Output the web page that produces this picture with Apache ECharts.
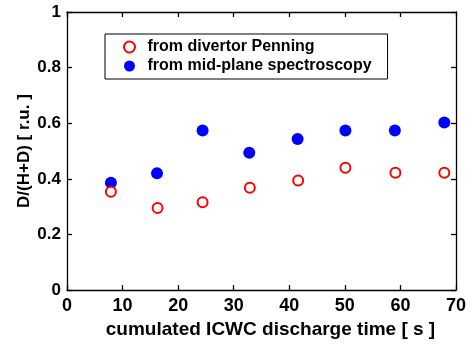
<!DOCTYPE html>
<html>
<head>
<meta charset="utf-8">
<script src="https://cdn.jsdelivr.net/npm/echarts@6/dist/echarts.min.js"></script>
<style>
  html, body { margin: 0; padding: 0; background: #fff; }
  #chart { width: 475px; height: 344px; }
</style>
</head>
<body>
<div id="chart"></div>
<script>
// values
const timePenning = [7.9, 16.3, 24.4, 32.9, 41.6, 50.1, 59.1, 67.9];
const penning = [0.354, 0.295, 0.316, 0.368, 0.394, 0.44, 0.422, 0.422];
const timeSpectro = [7.9, 16.2, 24.4, 32.8, 41.5, 50.1, 59.0, 67.9];
const spectro = [0.386, 0.42, 0.574, 0.494, 0.543, 0.574, 0.574, 0.603];

const font = "Liberation Sans, Arial, sans-serif";

const chart = echarts.init(document.getElementById("chart"));

const pairs = (xs, ys) => xs.map((x, i) => [x, ys[i]]);

const baseAxis = {
  axisLine: { show: true, onZero: false, lineStyle: { color: "#000", width: 1.3 } },
  axisTick: { show: true, inside: true, length: 5, lineStyle: { color: "#000", width: 1.3 } },
  splitLine: { show: false },
};

chart.setOption({
  animation: false,
  grid: { left: 67, right: 19, top: 12, bottom: 48 },
  xAxis: [
    {
      ...baseAxis,
      type: "value", min: 0, max: 70, interval: 10,
      name: "cumulated ICWC discharge time [ s ]",
      nameLocation: "middle", nameGap: 27,
      nameTextStyle: { fontFamily: font, fontWeight: "bold", fontSize: 19, color: "#000", padding: [0, 0, 0, 18] },
      axisLabel: { fontFamily: font, fontWeight: "bold", fontSize: 18, color: "#000", margin: 7 },
    },
    {
      ...baseAxis,
      type: "value", min: 0, max: 70, interval: 10, position: "top",
      axisLabel: { show: false },
    },
  ],
  yAxis: [
    {
      ...baseAxis,
      type: "value", min: 0, max: 1, interval: 0.2,
      name: "D/(H+D) [ r.u. ]",
      nameLocation: "middle", nameGap: 34, nameMoveOverlap: false,
      nameTextStyle: { fontFamily: font, fontWeight: "bold", fontSize: 17, color: "#000" },
      axisLabel: {
        fontFamily: font, fontWeight: "bold", fontSize: 17, color: "#000", margin: 6,
        formatter: v => (v === 0 || v === 1) ? String(v) : v.toFixed(1),
      },
    },
    {
      ...baseAxis,
      type: "value", min: 0, max: 1, interval: 0.2, position: "right",
      axisLabel: { show: false },
    },
  ],
  legend: {
    orient: "vertical",
    left: 105, top: 34,
    padding: [5, 16, 5, 18],
    itemGap: 3,
    itemWidth: 14, itemHeight: 11,
    borderColor: "#000", borderWidth: 1,
    textStyle: { fontFamily: font, fontWeight: "bold", fontSize: 16, lineHeight: 16, color: "#000", padding: [0, 0, 0, 6] },
    data: ["from divertor Penning", "from mid-plane spectroscopy"],
  },
  series: [
    {
      name: "from divertor Penning",
      type: "scatter",
      symbol: "circle", symbolSize: 10,
      itemStyle: { color: "#fff", borderColor: "#ff0000", borderWidth: 2, opacity: 1 },
      data: pairs(timePenning, penning),
      z: 3,
    },
    {
      name: "from mid-plane spectroscopy",
      type: "scatter",
      symbol: "circle", symbolSize: 12,
      itemStyle: { color: "#0000ff", opacity: 1 },
      data: pairs(timeSpectro, spectro),
      z: 2,
    },
  ],
});
</script>
</body>
</html>
